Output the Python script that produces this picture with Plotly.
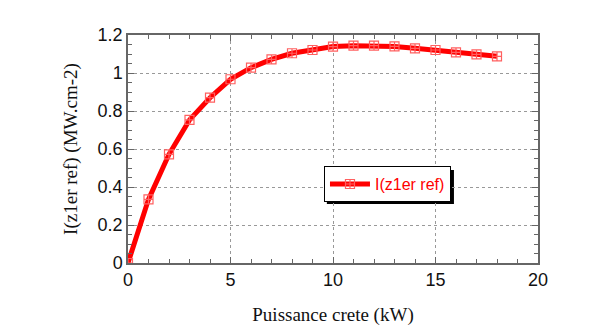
import plotly.graph_objects as go

power_kw = [0, 1, 2, 3, 4, 5, 6, 7, 8, 9, 10, 11, 12, 13, 14, 15, 16, 17, 18]
intensity = [0.0, 0.335, 0.572, 0.753, 0.870, 0.967, 1.028, 1.072, 1.104, 1.121,
             1.139, 1.144, 1.144, 1.140, 1.130, 1.121, 1.109, 1.098, 1.088]
series_name = "I(z1er ref)"
x_title = "Puissance crete (kW)"
y_title = "I(z1er ref) (MW.cm-2)"

fig = go.Figure()
fig.add_trace(go.Scatter(
    x=power_kw, y=intensity, mode="lines+markers", name=series_name,
    line=dict(color="#ff0000", width=5),
    marker=dict(symbol="square-cross-open", size=9, color="#ff6060",
                line=dict(width=1.2, color="#ff6060")),
))

axis_common = dict(
    showline=True, linecolor="#666666", linewidth=1.5, mirror="ticks",
    ticks="inside", ticklen=6, tickcolor="#666666",
    showgrid=True, gridcolor="#999999", griddash="dot", gridwidth=1,
    zeroline=False,
    tickfont=dict(family="Liberation Sans, Arial", size=18, color="#111111"),
    title_font=dict(family="Liberation Serif, Times New Roman", size=19, color="#111111"),
)

fig.update_xaxes(range=[0, 20], dtick=5, tick0=0,
                 minor=dict(dtick=1, ticks="inside", ticklen=4, tickcolor="#666666", showgrid=False),
                 title_text=x_title, title_standoff=18, **axis_common)
fig.update_yaxes(range=[0, 1.2], dtick=0.2, tick0=0, tickformat="~g",
                 minor=dict(dtick=0.05, ticks="inside", ticklen=4, tickcolor="#666666", showgrid=False),
                 title_text=y_title, title_standoff=15, **axis_common)

# legend drop shadow
fig.add_shape(type="rect", xref="paper", yref="paper",
              x0=0.485, x1=0.795, y0=0.259, y1=0.408,
              fillcolor="#000000", line=dict(width=0), layer="below")

fig.update_layout(
    width=600, height=331,
    margin=dict(l=128, r=62, t=35, b=68, autoexpand=False),
    paper_bgcolor="white", plot_bgcolor="white",
    showlegend=True,
    legend=dict(x=0.478, y=0.425, xanchor="left", yanchor="top",
                bgcolor="white", bordercolor="#000000", borderwidth=1,
                font=dict(family="Liberation Sans, Arial", size=16, color="#ff0000"),
                itemwidth=40, tracegroupgap=0),
)

fig.write_html("out.html", config={"displayModeBar": False},
               post_script="document.body.style.margin='0';document.body.style.overflow='hidden';")
